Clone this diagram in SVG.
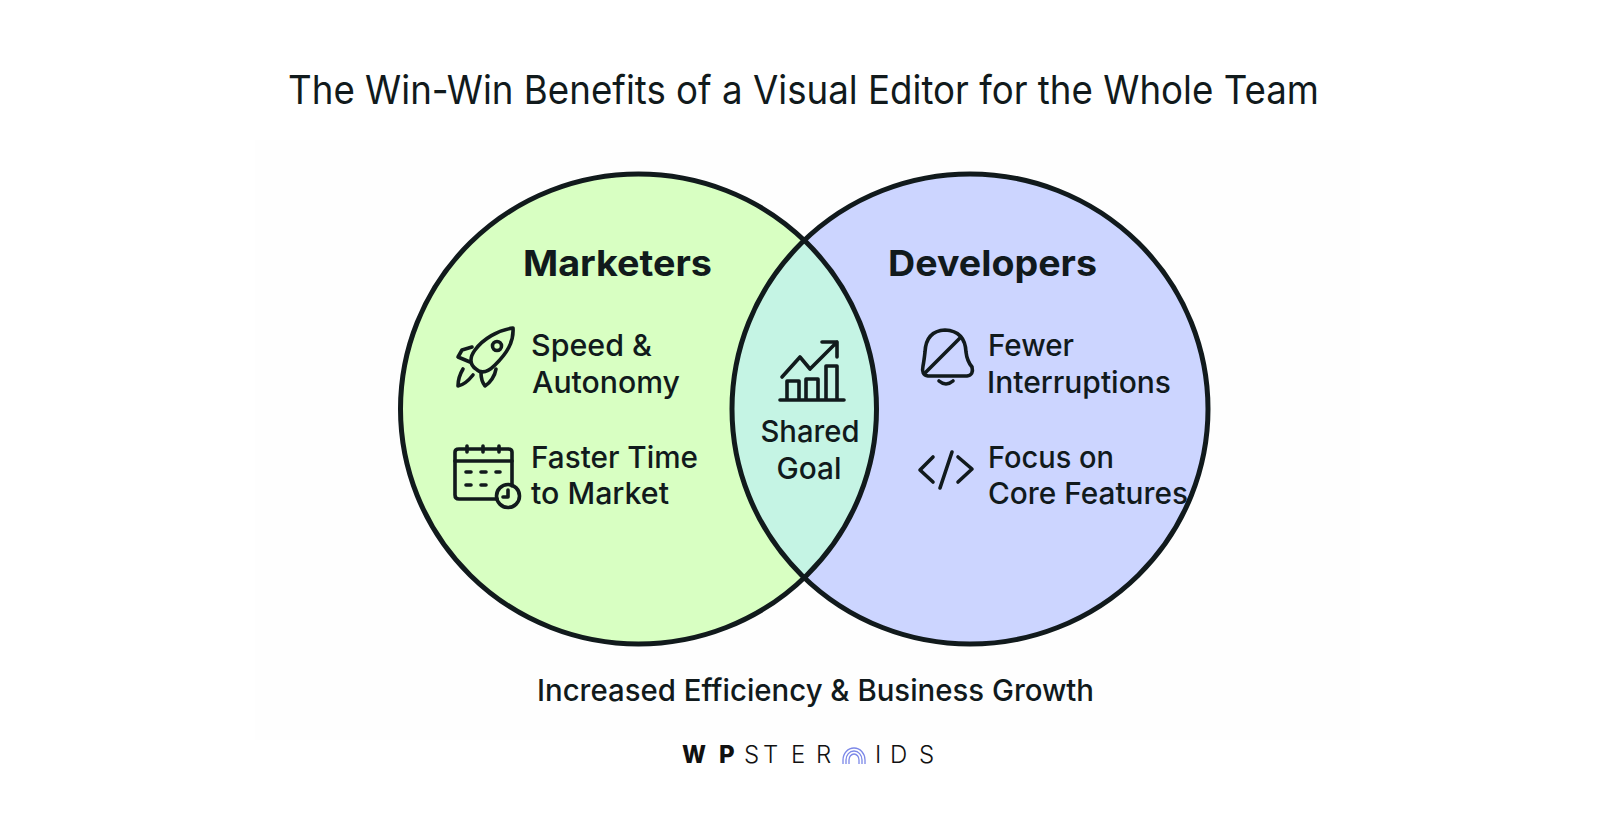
<svg xmlns="http://www.w3.org/2000/svg" width="1612" height="818" viewBox="0 0 1612 818">
<defs>
<clipPath id="clipL"><ellipse cx="638.5" cy="409" rx="238" ry="235"/></clipPath>
</defs>
<style>
text{font-family:"Inter","Liberation Sans",sans-serif;fill:#111a1c}
.t{font-size:30px;font-weight:500}
.h{font-size:36px;font-weight:700}
.ic{fill:none;stroke:#111a1c;stroke-width:3.6;stroke-linecap:round;stroke-linejoin:round}
.ring{fill:none;stroke:#111a1c;stroke-width:5}
.b{font-size:24px;font-weight:800;fill:#111}
.l{font-size:24px;font-weight:300;fill:#111}
</style>
<rect width="1612" height="818" fill="#ffffff"/>
<rect x="255" y="140" width="1105" height="600" fill="#fefefe"/>
<text id="title" x="288" y="104" font-size="39" font-weight="400" textLength="1031" lengthAdjust="spacingAndGlyphs">The Win-Win Benefits of a Visual Editor for the Whole Team</text>
<g id="connectors"></g>
<g id="marketers">
<ellipse cx="638.5" cy="409" rx="238" ry="235" fill="#d8ffc2"/>
</g>
<g id="developers">
<ellipse cx="970" cy="409" rx="238" ry="235" fill="#ccd5ff"/>
</g>
<g id="shared">
<ellipse cx="970" cy="409" rx="238" ry="235" fill="#c5f4e4" clip-path="url(#clipL)"/>
</g>
<ellipse class="ring" cx="638.5" cy="409" rx="238" ry="235"/>
<ellipse class="ring" cx="970" cy="409" rx="238" ry="235"/>
<text class="h" x="523" y="276" textLength="189" lengthAdjust="spacingAndGlyphs">Marketers</text>
<text class="h" x="888" y="276" textLength="209" lengthAdjust="spacingAndGlyphs">Developers</text>
<g id="speed">
<path class="ic" d="M513 328C498 330 483 339 475 350C469 358 470 365 476 369C482 375 489 371 495 365C507 353 514 342 513 328Z"/>
<circle class="ic" cx="497" cy="346" r="4.5"/>
<path class="ic" d="M472 347L462 350L458 357L470 362"/>
<path class="ic" d="M496 369C495 376 490 383 485 386C482 382 481 378 481 373"/>
<path class="ic" d="M463 369C460 374 458 380 458 386C464 385 469 380 473 375"/>
<text class="t" x="531" y="356" textLength="121" lengthAdjust="spacingAndGlyphs">Speed &amp;</text>
<text class="t" x="532" y="393" textLength="148" lengthAdjust="spacingAndGlyphs">Autonomy</text>
</g>
<g id="faster">
<path class="ic" d="M497 499H459Q455 499 455 495V452Q455 449 459 449H508Q512 449 512 452V486"/>
<path class="ic" d="M455 461H512M467 446V452M483 446V452M499 446V452"/>
<path class="ic" d="M466 472H471M481 472H486M496 472H500M466 485H471M481 485H486"/>
<circle class="ic" cx="508" cy="496" r="11.5"/>
<path class="ic" d="M508 490V497H503" stroke-width="2.6"/>
<text class="t" x="531" y="468" textLength="167" lengthAdjust="spacingAndGlyphs">Faster Time</text>
<text class="t" x="531" y="504" textLength="138" lengthAdjust="spacingAndGlyphs">to Market</text>
</g>
<g id="goal">
<path class="ic" d="M782 377L800 357L810 369L837 342M822 342H837V357"/>
<path class="ic" d="M780 400H844M787 399V381H799V399M806 399V379H818V399M826 399V366H837V399"/>
<text class="t" x="810" y="442" text-anchor="middle" textLength="99" lengthAdjust="spacingAndGlyphs">Shared</text>
<text class="t" x="809" y="479" text-anchor="middle" textLength="65" lengthAdjust="spacingAndGlyphs">Goal</text>
</g>
<g id="fewer">
<path class="ic" d="M928 376H967Q974 375 972 367Q967 361 966 352Q965 331 945 330Q926 331 925 352Q924 361 923 366Q921 375 928 376Z"/>
<path class="ic" d="M925 373L960 338"/>
<path class="ic" d="M939 381Q946 387 953 381"/>
<text class="t" x="988" y="356" textLength="86" lengthAdjust="spacingAndGlyphs">Fewer</text>
<text class="t" x="987" y="393" textLength="184" lengthAdjust="spacingAndGlyphs">Interruptions</text>
</g>
<g id="focus">
<path class="ic" d="M933 457L920 470L933 482M958 457L972 469L958 482M952 452L940 488"/>
<text class="t" x="988" y="468" textLength="126" lengthAdjust="spacingAndGlyphs">Focus on</text>
<text class="t" x="988" y="504" textLength="200" lengthAdjust="spacingAndGlyphs">Core Features</text>
</g>
<text id="footer" class="t" x="537" y="701" textLength="557" lengthAdjust="spacingAndGlyphs">Increased Efficiency &amp; Business Growth</text>
<g id="logo">
<text class="b" x="682" y="763" textLength="24" lengthAdjust="spacingAndGlyphs">W</text>
<text class="b" x="719" y="763">P</text>
<text class="l" x="744" y="763">S</text>
<text class="l" x="763" y="763">T</text>
<text class="l" x="791" y="763">E</text>
<text class="l" x="816" y="763">R</text>
<g fill="none" stroke="#7c88e8" stroke-width="1.3"><path d="M843 764V760A11 12 0 0 1 865 760V764"/><path d="M846 764V760A8 9 0 0 1 862 760V764"/><path d="M849 764V760A5 6 0 0 1 859 760V764"/></g>
<text class="l" x="875" y="763">I</text>
<text class="l" x="890" y="763">D</text>
<text class="l" x="919" y="763">S</text>
</g>
</svg>
